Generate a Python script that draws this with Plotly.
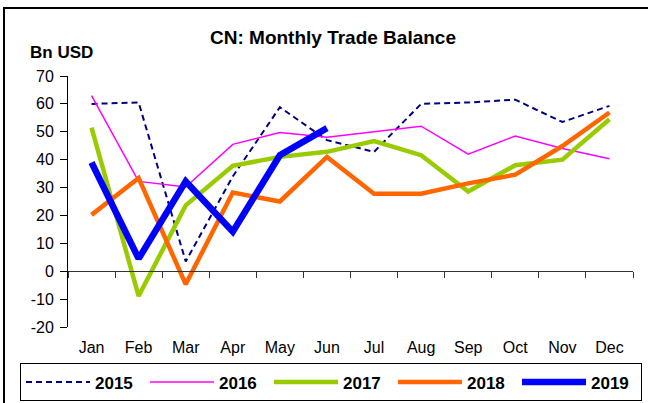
import plotly.graph_objects as go

months = ["Jan", "Feb", "Mar", "Apr", "May", "Jun", "Jul", "Aug", "Sep", "Oct", "Nov", "Dec"]
y2015 = [60, 60.5, 3.5, 34, 58.8, 47, 42.8, 60, 60.5, 61.5, 53.5, 59.3]
y2016 = [63, 32.2, 30.2, 45.5, 49.7, 48, 50, 52, 42, 48.5, 44, 40.3]
y2017 = [51.5, -8.9, 23.6, 37.8, 41, 42.8, 46.7, 41.6, 28.6, 38, 40, 54.5]
y2018 = [20.2, 33.4, -4.7, 28.2, 25, 41, 27.8, 27.8, 31.5, 34.6, 44.9, 56.9]
y2019 = [39, 4.5, 32.2, 14.2, 41.6, 51.3]
y_ticks = [-20, -10, 0, 10, 20, 30, 40, 50, 60, 70]
y_tick_labels = ["-20", "-10", "0", "10", "20", "30", "40", "50", "60", "70"]

FONT = "Liberation Sans, Arial, sans-serif"

fig = go.Figure()
series = [
    ("2015", y2015, dict(color="#000080", width=2, dash="6px,4px")),
    ("2016", y2016, dict(color="#FF00FF", width=1.5)),
    ("2017", y2017, dict(color="#99CC00", width=4.5)),
    ("2018", y2018, dict(color="#FF6600", width=4.5)),
    ("2019", y2019, dict(color="#0000FF", width=6.5)),
]
for name, ys, line in series:
    fig.add_trace(go.Scatter(x=months[:len(ys)], y=ys, mode="lines", name=name,
                             line=line, hoverinfo="skip"))

# invisible trace to carry the zero-line category axis
fig.add_trace(go.Scatter(x=months, y=[None] * len(months), xaxis="x2", yaxis="y",
                         mode="lines", showlegend=False, hoverinfo="skip"))

ymin, ymax = -20, 70
xr = [-0.5, len(months) - 0.5]
fig.update_layout(
    width=648, height=403,
    margin=dict(l=68, r=15, t=76, b=76, autoexpand=False),
    paper_bgcolor="white", plot_bgcolor="white",
    font=dict(family=FONT, size=16, color="black"),
    title=dict(text="<b>CN: Monthly Trade Balance</b>", xref="container", x=333 / 648,
               xanchor="center", yref="container", y=1 - 37 / 403, yanchor="middle",
               font=dict(size=19, family=FONT, color="black")),
    xaxis=dict(type="category", categoryorder="array", categoryarray=months, range=xr,
               showline=False, showgrid=False, zeroline=False, ticks="",
               ticklabelstandoff=9, tickfont=dict(size=16), automargin=False),
    xaxis2=dict(type="category", categoryorder="array", categoryarray=months, range=xr,
                overlaying="x", anchor="free",
                position=(0 - ymin) / (ymax - ymin),
                showline=True, linecolor="#333333", linewidth=1,
                ticks="outside", tickson="boundaries", ticklen=6, tickcolor="#333333",
                showticklabels=False, showgrid=False, zeroline=False, automargin=False),
    yaxis=dict(range=[ymin, ymax], tickvals=y_ticks, ticktext=y_tick_labels,
               showgrid=False, zeroline=False,
               showline=True, linecolor="black", linewidth=1, ticks="outside",
               ticklen=7, tickcolor="black", tickfont=dict(size=16),
               ticklabelstandoff=3, automargin=False),
    legend=dict(orientation="h", x=(20 - 68) / 565, xanchor="left",
                y=(326.7 - 363) / 250.7, yanchor="top",
                bordercolor="black", borderwidth=1, bgcolor="white",
                font=dict(size=17, family=FONT, color="black", weight="bold"),
                entrywidth=45, itemwidth=64, traceorder="normal"),
    annotations=[dict(text="<b>Bn USD</b>", xref="paper", yref="paper",
                      x=(61 - 68) / 565, y=(326.7 - 53) / 250.7,
                      xanchor="center", yanchor="middle",
                      showarrow=False, font=dict(size=17, family=FONT, color="black"))],
    shapes=[dict(type="rect", xref="paper", yref="paper",
                 x0=(4 - 68) / 565, y0=-0.6, x1=1.3, y1=(326.7 - 8) / 250.7,
                 line=dict(color="black", width=2),
                 fillcolor="rgba(0,0,0,0)", layer="below")],
    showlegend=True,
)

fig.write_html("out.html", config={"displayModeBar": False},
               post_script="document.body.style.margin='0';document.body.style.padding='0';")
